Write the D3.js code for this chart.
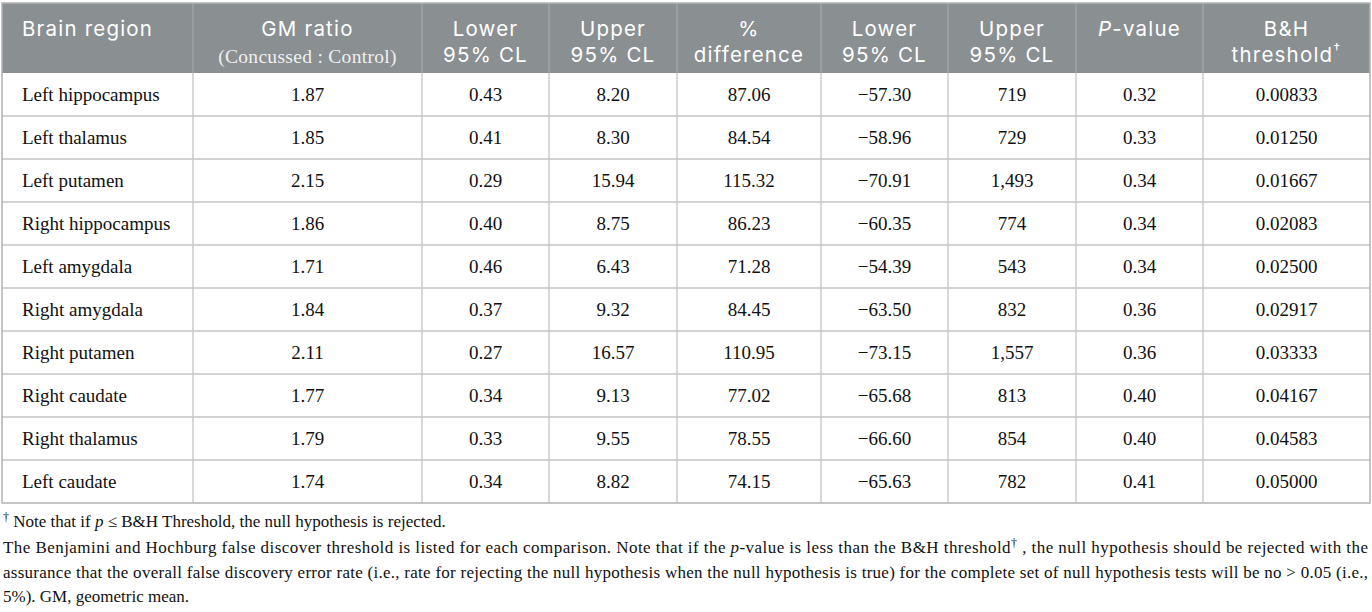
<!DOCTYPE html>
<html>
<head>
<meta charset="utf-8">
<script src="https://cdn.jsdelivr.net/npm/d3@7"></script>
<style>
  html, body { margin: 0; padding: 0; background: #fff; }
  svg { display: block; }
</style>
</head>
<body>
<div id="chart"></div>
<script>
// ---- data ----
const regions = ["Left hippocampus", "Left thalamus", "Left putamen", "Right hippocampus", "Left amygdala",
  "Right amygdala", "Right putamen", "Right caudate", "Right thalamus", "Left caudate"];
const gmRatio = [1.87, 1.85, 2.15, 1.86, 1.71, 1.84, 2.11, 1.77, 1.79, 1.74];
const ratioLower = [0.43, 0.41, 0.29, 0.40, 0.46, 0.37, 0.27, 0.34, 0.33, 0.34];
const ratioUpper = [8.20, 8.30, 15.94, 8.75, 6.43, 9.32, 16.57, 9.13, 9.55, 8.82];
const pctDifference = [87.06, 84.54, 115.32, 86.23, 71.28, 84.45, 110.95, 77.02, 78.55, 74.15];
const pctLower = [-57.30, -58.96, -70.91, -60.35, -54.39, -63.50, -73.15, -65.68, -66.60, -65.63];
const pctUpper = [719, 729, 1493, 774, 543, 832, 1557, 813, 854, 782];
const pValues = [0.32, 0.33, 0.34, 0.34, 0.34, 0.36, 0.36, 0.40, 0.40, 0.41];
const bhThreshold = [0.00833, 0.01250, 0.01667, 0.02083, 0.02500, 0.02917, 0.03333, 0.04167, 0.04583, 0.05000];

const headers = [
  ["Brain region"], ["GM ratio"], ["Lower", "95% CL"], ["Upper", "95% CL"], ["%", "difference"],
  ["Lower", "95% CL"], ["Upper", "95% CL"], ["P-value"], ["B&H", "threshold"]
];
const footnotes = [
  "Note that if p ≤ B&H Threshold, the null hypothesis is rejected.",
  "The Benjamini and Hochburg false discover threshold is listed for each comparison. Note that if the p-value is less than the B&H threshold, the null hypothesis should be rejected with the",
  "assurance that the overall false discovery error rate (i.e., rate for rejecting the null hypothesis when the null hypothesis is true) for the complete set of null hypothesis tests will be no > 0.05 (i.e.,",
  "5%). GM, geometric mean."
];

// ---- layout ----
const W = 1372, H = 612;
const colEdges = [2, 193, 422, 549, 677, 821, 948, 1076, 1203, 1370];
const tableTop = 3, headBottom = 73, rowH = 43;

const f2 = d3.format(".2f"), f5 = d3.format(".5f"), fc = d3.format(",d");
const rows = regions.map((r, i) => [
  r, f2(gmRatio[i]), f2(ratioLower[i]), f2(ratioUpper[i]), f2(pctDifference[i]),
  f2(pctLower[i]), fc(pctUpper[i]), f2(pValues[i]), f5(bhThreshold[i])
]);

const y = d3.scaleBand().domain(d3.range(regions.length))
  .range([headBottom, headBottom + rowH * regions.length]);
const tableBottom = headBottom + rowH * regions.length;

const svg = d3.select("#chart").append("svg").attr("width", W).attr("height", H);

// header background
svg.append("rect").attr("x", colEdges[0]).attr("y", tableTop)
  .attr("width", colEdges[9] - colEdges[0]).attr("height", headBottom - tableTop)
  .attr("fill", "#8a8f92");

// grid lines
const grid = svg.append("g").attr("stroke", "#c4c4c4").attr("stroke-width", 1.3);
grid.selectAll("line.h").data(d3.range(1, regions.length)).join("line")
  .attr("x1", colEdges[0]).attr("x2", colEdges[9])
  .attr("y1", d => y(d)).attr("y2", d => y(d));
grid.selectAll("line.v").data(colEdges.slice(1, -1)).join("line")
  .attr("x1", d => d).attr("x2", d => d)
  .attr("y1", headBottom).attr("y2", tableBottom);
// header vertical separators
svg.append("g").selectAll("line").data(colEdges.slice(1, -1)).join("line")
  .attr("x1", d => d).attr("x2", d => d).attr("y1", tableTop).attr("y2", headBottom)
  .attr("stroke", "#a3a7aa").attr("stroke-width", 1.3);
// outer border
svg.append("rect").attr("x", colEdges[0]).attr("y", tableTop)
  .attr("width", colEdges[9] - colEdges[0]).attr("height", tableBottom - tableTop)
  .attr("fill", "none").attr("stroke", "#b3b3b3").attr("stroke-width", 1.5);

// header text
const hFont = "Inter, 'Open Sans', sans-serif";
const hg = svg.append("g").attr("font-family", hFont).attr("font-size", 20.5)
  .attr("letter-spacing", 1.2).attr("fill", "#fff");
headers.forEach((lines, c) => {
  const cx = c === 0 ? colEdges[0] + 20 : (colEdges[c] + colEdges[c + 1]) / 2;
  lines.forEach((ln, k) => {
    const t = hg.append("text").attr("x", cx).attr("y", 36 + k * 25.5)
      .attr("text-anchor", c === 0 ? "start" : "middle");
    if (ln === "P-value") {
      t.append("tspan").attr("font-style", "italic").text("P");
      t.append("tspan").text("-value");
    } else {
      t.append("tspan").text(ln);
      if (ln === "threshold") t.append("tspan").attr("font-size", 14).attr("dy", -8).text("†");
    }
  });
});
hg.append("text").attr("x", (colEdges[1] + colEdges[2]) / 2).attr("y", 63)
  .attr("text-anchor", "middle").attr("font-family", "'Liberation Serif', serif")
  .attr("letter-spacing", 0.3)
  .attr("font-size", 19.5).attr("fill", "#f0f0f0").text("(Concussed :  Control)");

// body text
const bg = svg.append("g").attr("font-family", "'Liberation Serif', serif")
  .attr("font-size", 19).attr("fill", "#111");
rows.forEach((row, i) => {
  row.forEach((v, c) => {
    bg.append("text")
      .attr("x", c === 0 ? colEdges[0] + 20 : (colEdges[c] + colEdges[c + 1]) / 2)
      .attr("y", y(i) + rowH / 2 + 6.5)
      .attr("text-anchor", c === 0 ? "start" : "middle")
      .text(v);
  });
});

// footnotes
const fg = svg.append("g").attr("font-family", "'Liberation Serif', serif")
  .attr("font-size", 17).attr("fill", "#111");
const fy = [527, 553, 578, 602];
// line 1
const t1 = fg.append("text").attr("x", 3).attr("y", fy[0]);
t1.append("tspan").attr("font-size", 12).attr("dy", -6).text("†");
t1.append("tspan").attr("dy", 6).text(" Note that if ");
t1.append("tspan").attr("font-style", "italic").text("p");
t1.append("tspan").text(" ≤ B&H Threshold, the null hypothesis is rejected.");
// line 2 (justified)
const t2 = fg.append("text").attr("x", 3).attr("y", fy[1])
  .attr("textLength", 1365).attr("lengthAdjust", "spacing");
t2.append("tspan").text("The Benjamini and Hochburg false discover threshold is listed for each comparison. Note that if the ");
t2.append("tspan").attr("font-style", "italic").text("p");
t2.append("tspan").text("-value is less than the B&H threshold");
t2.append("tspan").attr("font-size", 12).attr("dy", -6).text("†");
t2.append("tspan").attr("dy", 6).text(" , the null hypothesis should be rejected with the");
// line 3 (justified)
fg.append("text").attr("x", 3).attr("y", fy[2])
  .attr("textLength", 1365).attr("lengthAdjust", "spacing").text(footnotes[2]);
// line 4
fg.append("text").attr("x", 3).attr("y", fy[3]).text(footnotes[3]);
</script>
</body>
</html>
